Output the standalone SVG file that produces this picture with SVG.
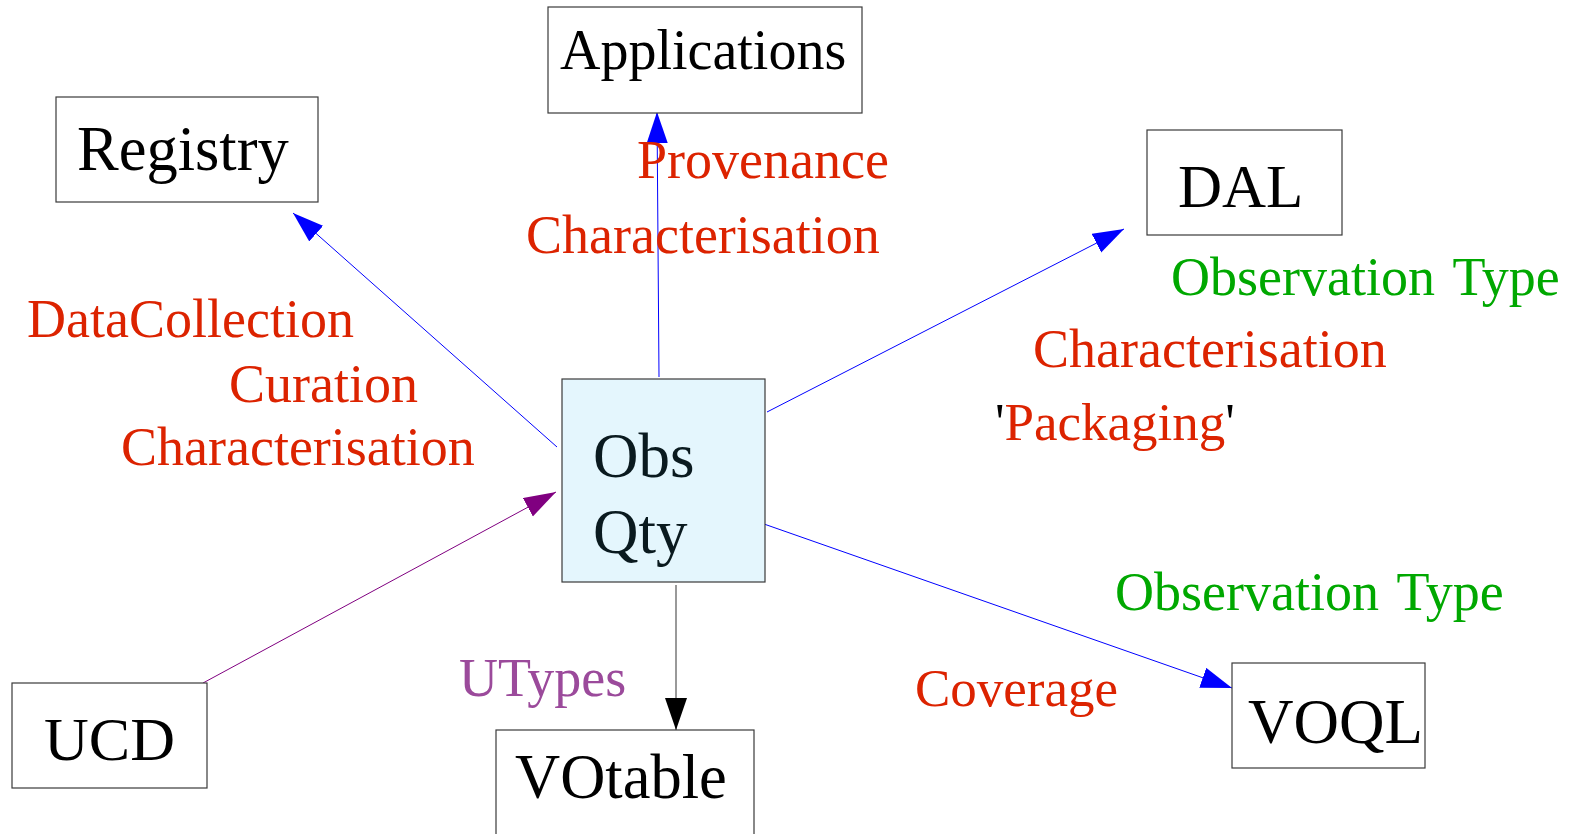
<svg xmlns="http://www.w3.org/2000/svg" width="1577" height="834" viewBox="0 0 1577 834">
<style>
.box{fill:#ffffff;stroke:#3a3a3a;stroke-width:1.2}
.core{fill:#e4f6fd;stroke:#3a3a3a;stroke-width:1.2}
.nt{font-family:"Liberation Serif","Times New Roman",serif;font-size:62px;fill:#000000}
.lb{font-family:"Liberation Serif","Times New Roman",serif;font-size:54px}
.red{fill:#dc2300}
.green{fill:#00a800}
.purple{fill:#9b4a9b}
.blue{stroke:#0000ff;stroke-width:1;fill:none}
</style>
<defs>
<marker id="ab" markerUnits="userSpaceOnUse" markerWidth="32" markerHeight="22" refX="31" refY="10.5" orient="auto"><path d="M0,0 L31,10.5 L0,21 z" fill="#0000ff"/></marker>
<marker id="ap" markerUnits="userSpaceOnUse" markerWidth="33" markerHeight="22" refX="32" refY="10.5" orient="auto"><path d="M0,0 L32,10.5 L0,21 z" fill="#800080"/></marker>
<marker id="ak" markerUnits="userSpaceOnUse" markerWidth="33" markerHeight="23" refX="32" refY="11" orient="auto"><path d="M0,0 L32,11 L0,22 z" fill="#000000"/></marker>
</defs>
<rect width="1577" height="834" fill="#ffffff"/>
<g id="connectors">
<line class="blue" x1="557" y1="447" x2="293" y2="213" marker-end="url(#ab)"/>
<line class="blue" x1="659" y1="377" x2="657" y2="112" marker-end="url(#ab)"/>
<line class="blue" x1="767" y1="412" x2="1124" y2="229" marker-end="url(#ab)"/>
<line class="blue" x1="764" y1="524" x2="1232" y2="688" marker-end="url(#ab)"/>
<line x1="676" y1="585" x2="676" y2="730" stroke="#777777" stroke-width="1.5" marker-end="url(#ak)"/>
<line x1="203" y1="683" x2="556" y2="492" stroke="#800080" stroke-width="1" marker-end="url(#ap)"/>
</g>
<g id="applications"><rect class="box" x="548" y="7" width="314" height="106"/><text class="nt" x="560" y="69" style="font-size:56px">Applications</text></g>
<g id="registry"><rect class="box" x="56" y="97" width="262" height="105"/><text class="nt" x="77" y="170" style="font-size:62.5px">Registry</text></g>
<g id="dal"><rect class="box" x="1147" y="130" width="195" height="105"/><text class="nt" x="1178" y="207" style="font-size:61px">DAL</text></g>
<g id="obsqty"><rect class="core" x="562" y="379" width="203" height="203"/><text class="nt" x="593" y="477" style="fill:#0a1a1f;font-size:63px">Obs</text><text class="nt" x="593" y="553" style="fill:#0a1a1f;font-size:63px">Qty</text></g>
<g id="voql"><rect class="box" x="1232" y="663" width="193" height="105"/><text class="nt" x="1248" y="743" style="font-size:63px">VOQL</text></g>
<g id="votable"><rect class="box" x="496" y="730" width="258" height="110"/><text class="nt" x="515" y="798" style="font-size:62.5px">VOtable</text></g>
<g id="ucd"><rect class="box" x="12" y="683" width="195" height="105"/><text class="nt" x="44" y="760">UCD</text></g>
<g id="labels">
<text class="lb red" x="637" y="178">Provenance</text>
<text class="lb red" x="526" y="253">Characterisation</text>
<text class="lb red" x="27" y="337">DataCollection</text>
<text class="lb red" x="229" y="402">Curation</text>
<text class="lb red" x="121" y="465">Characterisation</text>
<text class="lb green" x="1171" y="295" word-spacing="5">Observation Type</text>
<text class="lb red" x="1033" y="367">Characterisation</text>
<text class="lb" x="995" y="440" style="font-size:53px"><tspan fill="#000000">'</tspan><tspan class="red">Packaging</tspan><tspan fill="#000000">'</tspan></text>
<text class="lb green" x="1115" y="610" word-spacing="5">Observation Type</text>
<text class="lb red" x="915" y="706" style="font-size:53px">Coverage</text>
<text class="lb purple" x="459" y="696">UTypes</text>
</g>
</svg>
